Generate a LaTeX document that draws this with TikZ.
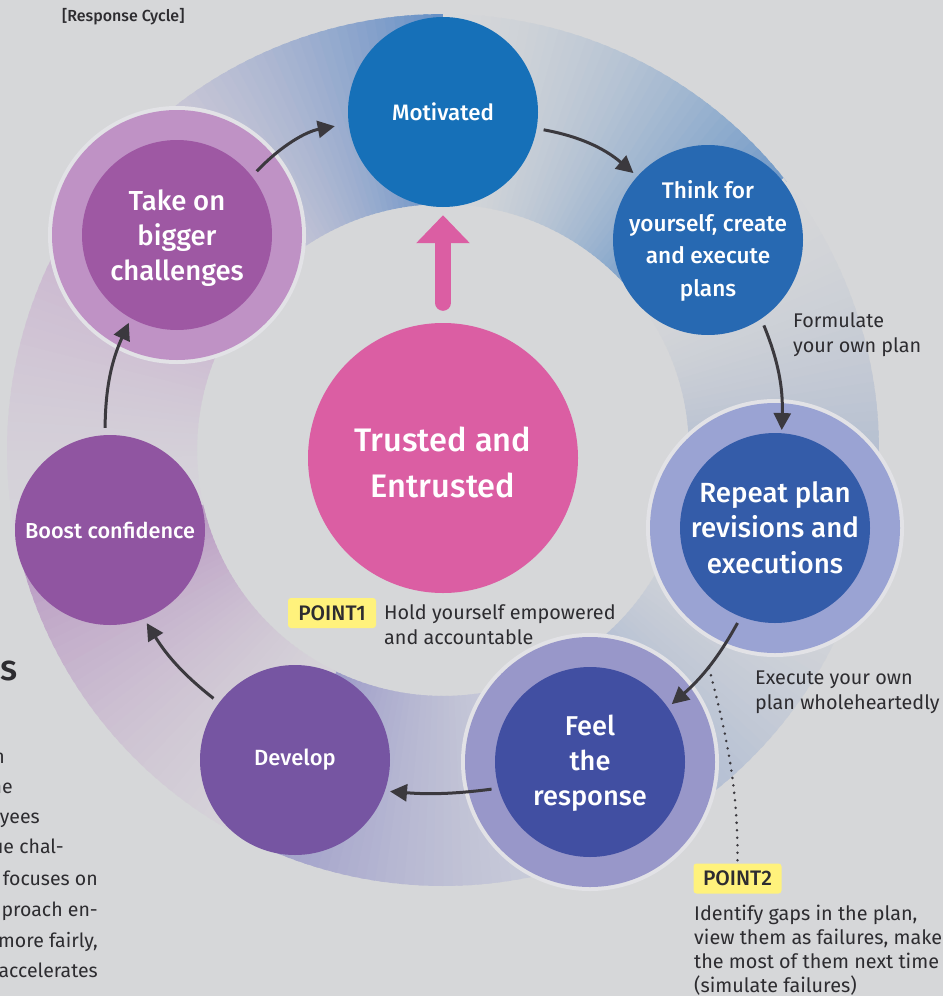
\documentclass[tikz,border=0pt]{standalone}
\usepackage{fontspec}
\setmainfont{Fira Sans}[BoldFont={* Medium}]
\usetikzlibrary{arrows.meta}

\definecolor{bg}{HTML}{D6D7D9}
\definecolor{ink}{HTML}{2D2C30}
\definecolor{arrowc}{HTML}{3B393E}
\definecolor{ringedge}{HTML}{E2E2E6}
\definecolor{motc}{HTML}{1670B8}
\definecolor{thinkc}{HTML}{2769B2}
\definecolor{repc}{HTML}{345CA9}
\definecolor{repring}{HTML}{9AA3D3}
\definecolor{feelc}{HTML}{414FA2}
\definecolor{feelring}{HTML}{9897C9}
\definecolor{devc}{HTML}{7655A2}
\definecolor{boostc}{HTML}{9055A1}
\definecolor{takec}{HTML}{9E58A3}
\definecolor{takering}{HTML}{BF92C5}
\definecolor{trustc}{HTML}{DB5EA3}
\definecolor{pointc}{HTML}{FFF27C}
% gradient end colours of the ring segments
\definecolor{bandTakeS}{HTML}{D5CDD8}
\definecolor{bandTakeE}{HTML}{6590C6}
\definecolor{bandMotE}{HTML}{7099C8}
\definecolor{bandThinkE}{HTML}{A3B2CC}
\definecolor{bandRepE}{HTML}{A0B1D0}
\definecolor{bandFeelS}{HTML}{CED1DB}
\definecolor{bandFeelE}{HTML}{9C9BC8}
\definecolor{bandDevS}{HTML}{D6D3D9}
\definecolor{bandDevE}{HTML}{B898C2}
\definecolor{bandBoostS}{HTML}{D6D4DA}
\definecolor{bandBoostE}{HTML}{C6AACB}

% one faded segment of the ring: start angle, end angle, start colour, end colour
\newcommand\bandseg[4]{%
  \foreach \i in {0,...,39}{%
    \pgfmathsetmacro\aa{#1+(#2-#1)*\i/40}%
    \pgfmathsetmacro\ab{#1+(#2-#1)*(\i+1.5)/40}%
    \pgfmathsetmacro\pp{100*((\i+0.5)/40)^1.6}%
    \colorlet{slicecol}{#4!\pp!#3}%
    \fill[slicecol] ({443+246*cos(\aa)},{450-246*sin(\aa)}) -- ({443+436*cos(\aa)},{450-436*sin(\aa)})
      -- ({443+436*cos(\ab)},{450-436*sin(\ab)}) -- ({443+246*cos(\ab)},{450-246*sin(\ab)}) -- cycle;
  }%
}
% centred multi-line label that does not enlarge its circle: vertical shift, lines
\newcommand\stack[2]{\makebox[0pt]{\raisebox{#1}[0pt][0pt]{\begin{tabular}{@{}c@{}}#2\end{tabular}}}}

\begin{document}
\begin{tikzpicture}[x=1pt,y=-1pt,
  stage/.style={circle, minimum size=190pt, inner sep=0pt, text=white, align=center, font=\bfseries},
  flow/.style={draw=arrowc, line width=3pt, -{Triangle[length=17pt,width=17pt]}, shorten <=7pt, shorten >=5pt},
  dots/.style={draw=arrowc, line width=2.8pt, line cap=round, dash pattern=on 0pt off 7.5pt},
  pointbox/.style={fill=pointc, rounded corners=3pt, minimum width=88pt, minimum height=30pt, inner sep=0pt, text=ink, font=\bfseries\fontsize{21}{21}\selectfont},
  note/.style={text=ink, inner sep=0pt, align=left, font=\fontsize{19.8}{24.5}\selectfont},
  para/.style={text=ink, inner sep=0pt, anchor=base east, font=\fontsize{19.5}{24}\selectfont}]

\fill[bg] (0,0) rectangle (943,996);
\useasboundingbox (0,0) rectangle (943,996);

% ring segments, each fading in towards the next stage
\bandseg{141.4}{90}{bandTakeS}{bandTakeE}
\bandseg{90}{38.6}{bg}{bandMotE}
\bandseg{38.6}{-12.9}{bg}{bandThinkE}
\bandseg{-12.9}{-64.3}{bg}{bandRepE}
\bandseg{-64.3}{-115.7}{bandFeelS}{bandFeelE}
\bandseg{-115.7}{-167.1}{bandDevS}{bandDevE}
\bandseg{192.9}{141.4}{bandBoostS}{bandBoostE}

% stage centres
\coordinate (cMot) at (443,112);
\coordinate (cThink) at (708,240);
\coordinate (cRep) at (775,528);
\coordinate (cFeel) at (590,762);
\coordinate (cDev) at (295,760);
\coordinate (cBoost) at (110,530);
\coordinate (cTake) at (177,235);

% outer rings of the highlighted stages
\fill[ringedge] (cTake) circle[radius=129pt];
\fill[takering] (cTake) circle[radius=125pt];
\fill[ringedge] (cRep) circle[radius=129pt];
\fill[repring] (cRep) circle[radius=125pt];
\fill[ringedge] (cFeel) circle[radius=129pt];
\fill[feelring] (cFeel) circle[radius=125pt];

% stages
\node[stage, fill=motc, font=\bfseries\fontsize{22.3}{32}\selectfont] (mot) at (cMot) {Motivated};
\node[stage, fill=thinkc, font=\bfseries\fontsize{22.6}{32.5}\selectfont] (think) at (cThink) {\stack{-6.4pt}{Think for\\yourself, create\\and execute\\plans}};
\node[stage, fill=repc, font=\bfseries\fontsize{27.7}{35.5}\selectfont] (repeat) at (cRep) {\stack{-9.1pt}{Repeat plan\\revisions and\\executions}};
\node[stage, fill=feelc, font=\bfseries\fontsize{27.2}{35}\selectfont] (feel) at (cFeel) {\stack{-8pt}{Feel\\the\\response}};
\node[stage, fill=devc, font=\bfseries\fontsize{22}{30}\selectfont] (develop) at (cDev) {Develop};
\node[stage, fill=boostc, font=\bfseries\fontsize{21.7}{30}\selectfont] (boost) at (cBoost) {Boost confidence};
\node[stage, fill=takec, font=\bfseries\fontsize{27.5}{35}\selectfont] (take) at (cTake) {\stack{-10.1pt}{Take on\\bigger\\challenges}};

% centre
\node[circle, minimum size=270pt, inner sep=0pt, fill=trustc, text=white,
  font=\bfseries\fontsize{32.6}{46}\selectfont] (trust) at (443,458) {\stack{-13.7pt}{Trusted and\\Entrusted}};
\draw[trustc, line width=16pt, line cap=round, -{Triangle[length=28pt,width=52pt]},
  shorten <=20pt, shorten >=8pt] (trust.north) -- (mot.south);

% cycle arrows
\draw[flow, shorten >=14pt] (take.38.9) to[bend left=18] (mot.187.8);
\draw[flow] (mot.-10) to[bend left=15] (think.138.3);
\draw[flow, shorten >=3pt] (think.-56.6) to[bend left=12] (repeat.86);
\draw[flow] (repeat.249.1) to[bend left=10] (feel.35.4);
\draw[flow] (feel.196.5) to[bend left=6] (develop.-19.8);
\draw[flow] (develop.143.9) to[bend left=10] (boost.-69.4);
\draw[flow] (boost.93.3) to[bend left=12] (take.-119.2);

% title
\node[anchor=base west, inner sep=0pt, text=ink, font=\bfseries\fontsize{16}{18}\selectfont] (title) at (62,21) {[Response Cycle]};

% side notes (anchored at the baseline of their last line)
\node[note, anchor=base west] (formulate) at (793,352) {Formulate\\your own plan};
\node[note, anchor=base west] (execute) at (755,709) {Execute your own\\plan wholeheartedly};

\node[pointbox] (point1) at (332,613) {POINT1};
\node[note, anchor=base west] (hold) at (384,644) {Hold yourself empowered\\and accountable};

\node[pointbox] (point2) at (737.5,878.5) {POINT2};
\node[note, anchor=base west, font=\fontsize{19.8}{23.7}\selectfont] (gaps) at (694,992)
  {Identify gaps in the plan,\\view them as failures, make\\the most of them next time\\(simulate failures)};

\coordinate (dotA) at (709,668);
\draw[dots] (dotA) .. controls (728,740) and (738,790) .. (point2.north);

% neighbouring column text
\node[text=ink, inner sep=0pt, anchor=base east, font=\bfseries\fontsize{36}{40}\selectfont] (head) at (18,680) {s};
\node[para] (l1) at (5,763) {n};
\node[para] (l2) at (13,793) {ne};
\node[para] (l3) at (40,823) {yees};
\node[para] (l4) at (64,853) {ue chal-};
\node[para] (l5) at (98,885) {focuses on};
\node[para] (l6) at (98,916) {proach en-};
\node[para] (l7) at (98,947) {more fairly,};
\node[para] (l8) at (98,977) {accelerates};

\end{tikzpicture}
\end{document}
